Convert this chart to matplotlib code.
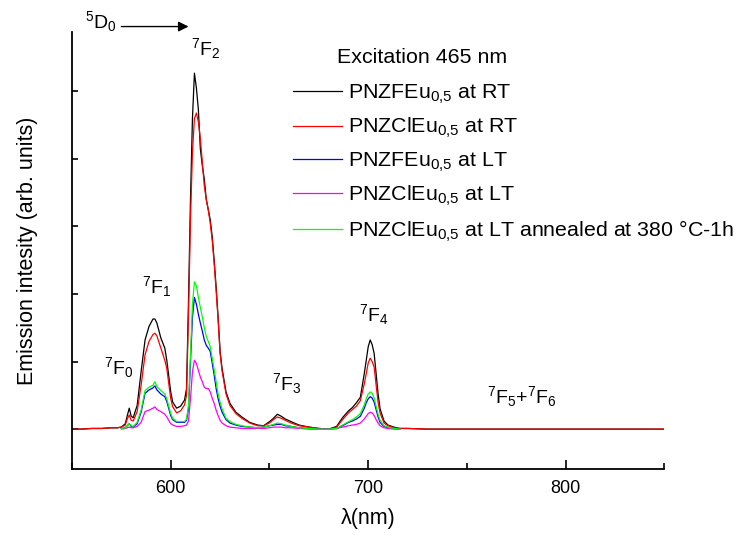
import numpy as np
import matplotlib
matplotlib.use('Agg')
import matplotlib.pyplot as plt
from matplotlib.ticker import MultipleLocator, NullFormatter

plt.rcParams['font.family'] = ['Liberation Sans', 'DejaVu Sans']
plt.rcParams['mathtext.fontset'] = 'custom'
plt.rcParams['mathtext.rm'] = 'Liberation Sans'
plt.rcParams['mathtext.it'] = 'Liberation Sans:italic'
plt.rcParams['mathtext.bf'] = 'Liberation Sans:bold'

# Emission spectra, 465 nm excitation (intensity in arbitrary units)
wl_lt = [575, 577, 578, 579, 580, 581, 583, 585, 587, 589,
         591, 592, 593, 595, 597, 598, 600, 601, 603, 605,
         607, 608, 609, 610, 611, 612, 613, 614, 615, 616,
         617, 618, 619, 620, 621, 622, 623, 624, 625, 626,
         628, 630, 633, 636, 640, 644, 647, 650, 652, 654,
         656, 658, 661, 665, 670, 675, 680, 684, 687, 690,
         692, 694, 696, 698, 699, 700, 701, 702, 703, 704,
         705, 706, 708, 710, 713, 716]

# RT spectra were recorded over the whole 550-850 nm range
wl_tail_left = [550, 555, 560, 565, 570, 573]
wl_tail_right = [720, 730, 750, 780, 800, 830, 850]
tail_left = [0.00, 0.00, 0.01, 0.01, 0.02, 0.02]
tail_right = [0.01, 0.00, 0.00, 0.00, 0.00, 0.00, 0.00]

fe_rt = [0.03, 0.08, 0.20, 0.31, 0.19, 0.17, 0.35, 0.85, 1.32, 1.52,
         1.63, 1.63, 1.57, 1.35, 1.20, 1.02, 0.55, 0.40, 0.31, 0.34,
         0.43, 0.60, 1.90, 3.40, 4.60, 5.27, 5.05, 4.73, 4.15, 3.90,
         3.70, 3.40, 3.25, 3.10, 2.85, 2.50, 2.10, 1.65, 1.15, 0.90,
         0.55, 0.38, 0.25, 0.18, 0.10, 0.06, 0.05, 0.11, 0.16, 0.22,
         0.19, 0.15, 0.11, 0.06, 0.03, 0.01, 0.00, 0.04, 0.17, 0.27,
         0.32, 0.39, 0.47, 0.82, 1.02, 1.22, 1.32, 1.25, 1.12, 0.82,
         0.52, 0.30, 0.12, 0.06, 0.03, 0.01]

cl_rt = [0.03, 0.06, 0.15, 0.21, 0.13, 0.12, 0.26, 0.65, 1.10, 1.30,
         1.40, 1.42, 1.38, 1.20, 1.02, 0.90, 0.45, 0.33, 0.24, 0.27,
         0.36, 0.50, 1.70, 3.10, 4.10, 4.60, 4.68, 4.55, 4.30, 3.95,
         3.60, 3.40, 3.25, 3.05, 2.80, 2.45, 2.05, 1.62, 1.12, 0.86,
         0.52, 0.35, 0.23, 0.16, 0.09, 0.05, 0.05, 0.09, 0.14, 0.18,
         0.16, 0.13, 0.09, 0.05, 0.03, 0.01, 0.00, 0.03, 0.14, 0.24,
         0.29, 0.34, 0.42, 0.67, 0.82, 0.98, 1.05, 1.00, 0.92, 0.65,
         0.40, 0.24, 0.09, 0.05, 0.02, 0.01]

fe_lt = [0.01, 0.02, 0.05, 0.08, 0.04, 0.03, 0.08, 0.25, 0.53, 0.58,
         0.61, 0.64, 0.58, 0.52, 0.48, 0.41, 0.20, 0.14, 0.10, 0.10,
         0.10, 0.13, 0.30, 1.00, 1.65, 1.95, 1.85, 1.70, 1.57, 1.45,
         1.32, 1.24, 1.20, 1.15, 0.98, 0.80, 0.60, 0.45, 0.34, 0.25,
         0.14, 0.09, 0.06, 0.04, 0.03, 0.02, 0.03, 0.05, 0.06, 0.07,
         0.07, 0.05, 0.04, 0.02, 0.01, 0.00, 0.00, 0.01, 0.05, 0.10,
         0.12, 0.15, 0.19, 0.31, 0.39, 0.45, 0.48, 0.46, 0.40, 0.29,
         0.18, 0.10, 0.04, 0.02, 0.01, 0.00]

cl_lt = [0.00, 0.01, 0.02, 0.03, 0.02, 0.02, 0.04, 0.10, 0.26, 0.28,
         0.31, 0.33, 0.29, 0.26, 0.22, 0.18, 0.08, 0.06, 0.04, 0.04,
         0.05, 0.06, 0.12, 0.45, 0.85, 1.02, 0.97, 0.87, 0.77, 0.70,
         0.62, 0.60, 0.60, 0.55, 0.46, 0.38, 0.28, 0.20, 0.13, 0.09,
         0.05, 0.03, 0.02, 0.01, 0.01, 0.01, 0.01, 0.02, 0.03, 0.03,
         0.03, 0.02, 0.02, 0.01, 0.00, 0.00, 0.00, 0.01, 0.03, 0.05,
         0.06, 0.07, 0.09, 0.15, 0.19, 0.23, 0.25, 0.24, 0.20, 0.14,
         0.09, 0.05, 0.02, 0.01, 0.00, 0.00]

cl_lt_annealed = [0.01, 0.02, 0.05, 0.08, 0.05, 0.04, 0.10, 0.28, 0.57, 0.62,
                  0.65, 0.70, 0.63, 0.57, 0.52, 0.45, 0.23, 0.16, 0.11, 0.11,
                  0.11, 0.15, 0.35, 1.10, 1.85, 2.18, 2.12, 1.95, 1.80, 1.66,
                  1.50, 1.37, 1.30, 1.22, 1.05, 0.88, 0.70, 0.52, 0.40, 0.30,
                  0.16, 0.11, 0.07, 0.05, 0.03, 0.02, 0.03, 0.05, 0.07, 0.09,
                  0.08, 0.06, 0.04, 0.02, 0.01, 0.00, 0.00, 0.01, 0.06, 0.11,
                  0.14, 0.18, 0.23, 0.36, 0.45, 0.52, 0.55, 0.53, 0.46, 0.34,
                  0.22, 0.13, 0.05, 0.03, 0.01, 0.00]

labels = [r'PNZFEu$_{\mathrm{0{,}5}}$ at RT',
          r'PNZClEu$_{\mathrm{0{,}5}}$ at RT',
          r'PNZFEu$_{\mathrm{0{,}5}}$ at LT',
          r'PNZClEu$_{\mathrm{0{,}5}}$ at LT',
          r'PNZClEu$_{\mathrm{0{,}5}}$ at LT annealed at 380 °C-1h']
colors = ['black', 'red', 'blue', 'magenta', '#00ff00']

# transition labels: (text, x, y)
transitions = [(r'$^{\mathrm{7}}$F$_{\mathrm{0}}$', 566.2, 0.81),
               (r'$^{\mathrm{7}}$F$_{\mathrm{1}}$', 585.4, 2.01),
               (r'$^{\mathrm{7}}$F$_{\mathrm{2}}$', 610.4, 5.54),
               (r'$^{\mathrm{7}}$F$_{\mathrm{3}}$', 651.4, 0.58),
               (r'$^{\mathrm{7}}$F$_{\mathrm{4}}$', 695.2, 1.60),
               (r'$^{\mathrm{7}}$F$_{\mathrm{5}}$+$^{\mathrm{7}}$F$_{\mathrm{6}}$', 760.2, 0.39)]

wl_rt = np.r_[wl_tail_left, wl_lt, wl_tail_right]
series = [(wl_rt, np.r_[tail_left, fe_rt, tail_right]),
          (wl_rt, np.r_[tail_left, cl_rt, tail_right]),
          (wl_lt, fe_lt),
          (wl_lt, cl_lt),
          (wl_lt, cl_lt_annealed)]

fig = plt.figure(figsize=(7.36, 5.38), dpi=100)
ax = fig.add_axes([0.0978, 0.1283, 0.805, 0.8123])

for (x, y), lab, c in zip(series, labels, colors):
    ax.plot(x, y, color=c, lw=0.9, label=lab)

ax.set_xlim(550, 850)
ax.set_ylim(-0.59, 5.88)

for side in ['top', 'right']:
    ax.spines[side].set_visible(False)
for side in ['left', 'bottom']:
    ax.spines[side].set_linewidth(1.3)

ax.xaxis.set_major_locator(MultipleLocator(100))
ax.xaxis.set_minor_locator(MultipleLocator(50))
ax.yaxis.set_major_locator(MultipleLocator(1))
ax.yaxis.set_major_formatter(NullFormatter())
ax.tick_params(axis='x', which='major', direction='in', length=6.5, width=1.2,
               labelsize=13, pad=8)
ax.tick_params(axis='x', which='minor', direction='in', length=4, width=1.2)
ax.tick_params(axis='y', which='major', direction='in', length=4, width=1.2)

ax.set_xlabel('λ(nm)', fontsize=15.5, labelpad=8)
ax.set_ylabel('Emission intesity (arb. units)', fontsize=15.5, labelpad=21)

for txt, x, y in transitions:
    ax.text(x, y, txt, fontsize=14, ha='left', va='baseline')

ax.text(556.6, 5.94, r'$^{\mathrm{5}}$D$_{\mathrm{0}}$', fontsize=14,
        ha='left', va='baseline', clip_on=False)
ax.annotate('', xy=(609.0, 5.96), xytext=(575.0, 5.96),
            arrowprops=dict(arrowstyle='-|>', color='black', lw=1,
                            mutation_scale=15, shrinkA=0, shrinkB=0),
            annotation_clip=False)

ax.text(684.0, 5.42, 'Excitation 465 nm', fontsize=15.4, ha='left', va='baseline')
ax.legend(loc='upper left', bbox_to_anchor=(0.373, 0.884), frameon=False,
          fontsize=15.4, handlelength=2.29, handletextpad=0.28, labelspacing=0.48,
          borderpad=0, borderaxespad=0)

fig.savefig('out.png', dpi=100)
